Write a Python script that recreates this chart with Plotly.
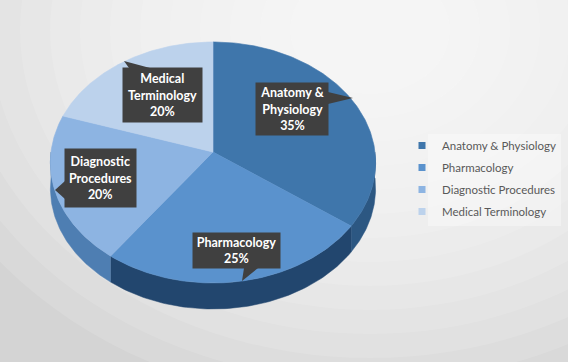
import numpy as np
import plotly.graph_objects as go

# ---------------- data ----------------
categories = ["Anatomy & Physiology", "Pharmacology", "Diagnostic Procedures", "Medical Terminology"]
values = [35, 25, 20, 20]
label_lines = ["Anatomy &<br>Physiology", "Pharmacology", "Diagnostic<br>Procedures", "Medical<br>Terminology"]

# ---------------- style ----------------
top_colors = ["#3F76AB", "#5A92CD", "#8DB4E2", "#BCD2EC"]
side_colors = ["#2C5782", "#22466E", "#4E7EB2", "#7EA3CF"]
label_pos = [(292, 109), (236.5, 250.5), (100.5, 178), (162.5, 95)]
label_size = [(72, 52), (87, 35), (71, 58), (79, 54)]
pointers = [
    [(328, 92), (353, 98), (328, 104)],
    [(244, 268), (242, 281), (258, 268)],
    [(65, 181), (55, 190), (65, 199)],
    [(129, 68), (124, 61), (150, 68)],
]

W, H = 568, 362
CX, CY = 213, 152        # apex of the pie
A, B, P = 162, 119.6, 0.087
DEPTH = 26
FONT = "Lato"


def proj(t):
    z = np.cos(t)
    s = 1.0 / (1.0 + P * z)
    return CX + A * np.sin(t) * s, CY - B * np.cos(t) * s


fig = go.Figure()

total = float(sum(values))
bounds = np.concatenate([[0], np.cumsum(values)]) / total * 2 * np.pi

# side walls (front half only)
for i in range(len(values)):
    t0, t1 = bounds[i], bounds[i + 1]
    a0, a1 = max(t0, np.pi / 2), min(t1, 3 * np.pi / 2)
    if a1 <= a0:
        continue
    tt = np.linspace(a0, a1, 80)
    x, y = proj(tt)
    xs = np.concatenate([x, x[::-1]])
    ys = np.concatenate([y, y[::-1] + DEPTH])
    fig.add_trace(go.Scatter(x=xs, y=ys, fill="toself", mode="lines",
                             line=dict(width=0.5, color=side_colors[i]),
                             fillcolor=side_colors[i], showlegend=False,
                             hoverinfo="skip"))

# top faces
for i in range(len(values)):
    t0, t1 = bounds[i], bounds[i + 1]
    tt = np.linspace(t0, t1, 160)
    x, y = proj(tt)
    xs = np.concatenate([[CX], x, [CX]])
    ys = np.concatenate([[CY], y, [CY]])
    fig.add_trace(go.Scatter(x=xs, y=ys, fill="toself", mode="lines",
                             line=dict(width=0.6, color=top_colors[i]),
                             fillcolor=top_colors[i], showlegend=False,
                             name=categories[i], hoverinfo="name"))

# legend entries
for i, c in enumerate(categories):
    fig.add_trace(go.Scatter(x=[None], y=[None], mode="markers", name=c,
                             marker=dict(symbol="square", size=7, color=top_colors[i]),
                             legendgroup=f"g{i}", showlegend=True))

shapes = []
# background radial gradient
for k in range(14):
    r = 470 - k * 30
    shapes.append(dict(type="circle", xref="paper", yref="paper", layer="below",
                       x0=(370 - r) / W, x1=(370 + r) / W,
                       y0=1 - (30 + r * 0.8) / H, y1=1 - (30 - r * 0.8) / H,
                       fillcolor="rgba(255,255,255,0.12)", line=dict(width=0)))
# legend box
shapes.append(dict(type="rect", xref="x", yref="y", layer="below",
                   x0=428, x1=561, y0=134, y1=226,
                   fillcolor="rgba(255,255,255,0.35)", line=dict(width=0)))
# callout pointers
for tri in pointers:
    path = "M {} {} L {} {} L {} {} Z".format(*[v for p in tri for v in p])
    shapes.append(dict(type="path", path=path, xref="x", yref="y", layer="above",
                       fillcolor="#404040", line=dict(width=0)))

annotations = []
for i in range(len(values)):
    pct = round(values[i] / total * 100)
    (x, y), (w, h) = label_pos[i], label_size[i]
    annotations.append(dict(
        x=x, y=y, xref="x", yref="y", showarrow=False,
        text=f"<b>{label_lines[i]}<br>{pct}%</b>",
        font=dict(family=FONT, size=12.5, color="white"),
        bgcolor="#404040", width=w, height=h, borderpad=0, align="center",
        valign="middle"))

fig.update_layout(
    width=W, height=H,
    margin=dict(l=0, r=0, t=0, b=0, autoexpand=False),
    paper_bgcolor="#d4d4d4",
    plot_bgcolor="rgba(0,0,0,0)",
    xaxis=dict(range=[0, W], visible=False, showgrid=False, zeroline=False),
    yaxis=dict(range=[H, 0], visible=False, showgrid=False, zeroline=False),
    shapes=shapes,
    annotations=annotations,
    showlegend=True,
    legend=dict(x=402 / W, y=1 - 131 / H, xanchor="left", yanchor="top",
                bgcolor="rgba(0,0,0,0)", font=dict(family=FONT, size=11.5, color="#595959"),
                itemwidth=30, tracegroupgap=3),
)

fig.write_html("out.html")
